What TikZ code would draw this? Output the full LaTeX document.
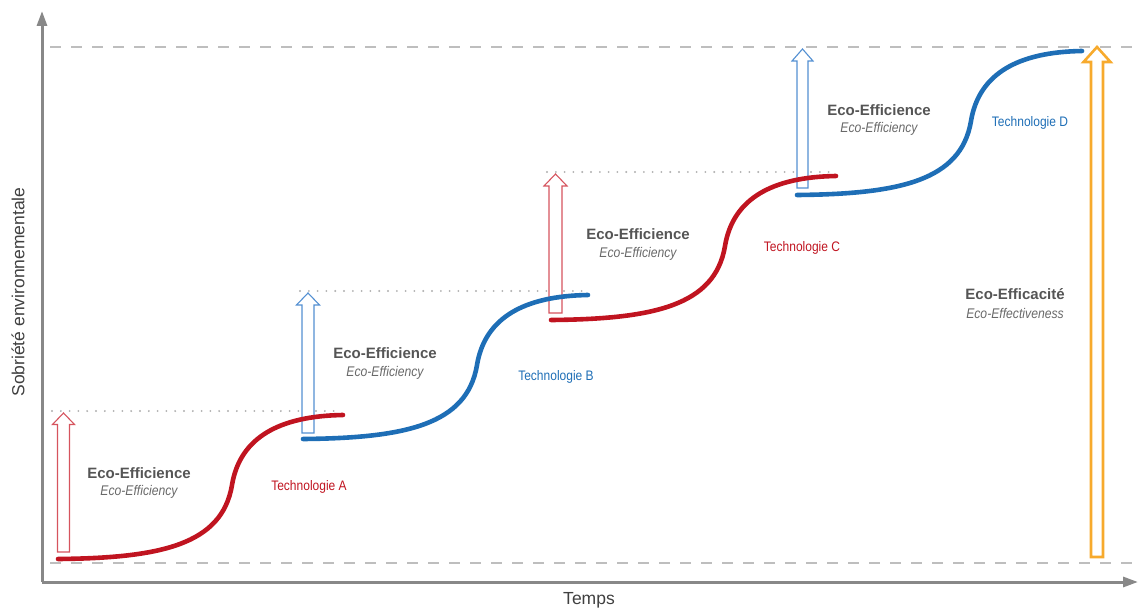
\documentclass[tikz,border=0pt]{standalone}
\usepackage{fontspec}
\setmainfont{Liberation Sans}
\usetikzlibrary{arrows.meta}
\definecolor{axisgray}{RGB}{136,136,136}
\definecolor{dashgray}{RGB}{190,190,190}
\definecolor{dotgray}{RGB}{175,175,175}
\definecolor{techred}{RGB}{192,20,32}
\definecolor{techblue}{RGB}{30,110,182}
\definecolor{arrred}{RGB}{214,84,94}
\definecolor{arrblue}{RGB}{84,144,210}
\definecolor{effor}{RGB}{247,170,45}
\definecolor{txtdark}{RGB}{85,85,85}
\definecolor{txtital}{RGB}{105,105,105}
\newcommand{\condtxt}[1]{\scalebox{0.87}[1]{#1}}
\tikzset{
  axisline/.style={draw=axisgray, line width=3pt, -{Triangle[length=15pt,width=10pt]}},
  levelline/.style={draw=dashgray, line width=2pt, dash pattern=on 11pt off 10pt},
  dotline/.style={draw=dotgray, line width=2.1pt, line cap=round, dash pattern=on 0pt off 8.8pt},
  techcurve/.style={line width=4.6pt, line cap=round},
  hollowarr/.style={line width=1.1pt, fill=white, line join=miter},
  boldlbl/.style={text=txtdark, font=\fontsize{15}{17}\selectfont\bfseries, inner sep=0pt},
  itallbl/.style={text=txtital, font=\fontsize{14}{16}\selectfont\itshape, inner sep=0pt},
  techlbl/.style={font=\fontsize{13.8}{16}\selectfont, inner sep=0pt},
  axislbl/.style={text=black!75, font=\fontsize{17.5}{20}\selectfont, inner sep=0pt}
}
% hollow arrow: style, center x, bottom y, tip y, half shaft, half head, head length
\newcommand{\hollowarrow}[7]{%
  \draw[hollowarr,#1] (#2-#5,#3) -- (#2-#5,#4+#7) -- (#2-#6,#4+#7) -- (#2,#4)
    -- (#2+#6,#4+#7) -- (#2+#5,#4+#7) -- (#2+#5,#3) -- cycle;}
\newcommand{\scurve}[3]{%
  \draw[techcurve,#1,shift={(#2,#3)}] (58,559) .. controls (160,558) and (222,545) .. (232,485)
    .. controls (240,437) and (280,416) .. (343,415);}
\begin{document}
\begin{tikzpicture}[x=1pt,y=-1pt]
\useasboundingbox (0,0) rectangle (1138,610);
% level lines
\coordinate (topL) at (50,47);
\coordinate (topR) at (1138,47);
\coordinate (botL) at (50,563);
\coordinate (botR) at (1138,563);
\draw[levelline] (topL) -- (topR);
\draw[levelline] (botL) -- (botR);
% dotted levels
\coordinate (d1a) at (52,411); \coordinate (d1b) at (340,411);
\coordinate (d2a) at (300,291); \coordinate (d2b) at (586,291);
\coordinate (d3a) at (547,172); \coordinate (d3b) at (834,172);
\draw[dotline] (d1a) -- (d1b);
\draw[dotline] (d2a) -- (d2b);
\draw[dotline] (d3a) -- (d3b);
% axes
\coordinate (O) at (42,582);
\coordinate (Ytop) at (42,11);
\coordinate (Xend) at (1138,582);
\draw[axisline] (O) -- (Ytop);
\draw[axisline] (O) -- (Xend);
% hollow arrows
\hollowarrow{draw=arrred}{63.5}{552}{413}{6}{11}{11.5}
\hollowarrow{draw=arrblue}{308}{433}{293}{6}{11.5}{12}
\hollowarrow{draw=arrred}{555.5}{313}{174}{6.5}{11.5}{12}
\hollowarrow{draw=arrblue}{802.5}{188}{49}{5.5}{10.5}{12}
\hollowarrow{draw=effor,line width=2.6pt}{1097}{557}{47}{6}{13.5}{15}
% technology curves
\scurve{draw=techred}{0}{0}
\scurve{draw=techblue}{245}{-120}
\scurve{draw=techred}{493}{-239}
\scurve{draw=techblue}{739}{-364}
% labels
\node[boldlbl] (ef1) at (139,473) {Eco-Efficience};
\node[itallbl] (ef1e) at (139,492) {\condtxt{Eco-Efficiency}};
\node[boldlbl] (ef2) at (385,353) {Eco-Efficience};
\node[itallbl] (ef2e) at (385,373) {\condtxt{Eco-Efficiency}};
\node[boldlbl] (ef3) at (638,234) {Eco-Efficience};
\node[itallbl] (ef3e) at (638,254) {\condtxt{Eco-Efficiency}};
\node[boldlbl] (ef4) at (879,110) {Eco-Efficience};
\node[itallbl] (ef4e) at (879,129) {\condtxt{Eco-Efficiency}};
\node[boldlbl] (eff) at (1015,294) {Eco-Efficacité};
\node[itallbl] (effe) at (1015,313) {\condtxt{Eco-Effectiveness}};
\node[techlbl,text=techred] (tA) at (309,487) {\condtxt{Technologie A}};
\node[techlbl,text=techblue] (tB) at (556,377) {\condtxt{Technologie B}};
\node[techlbl,text=techred] (tC) at (802,248) {\condtxt{Technologie C}};
\node[techlbl,text=techblue] (tD) at (1030,123) {\condtxt{Technologie D}};
\node[axislbl] (xl) at (589,600) {Temps};
\node[axislbl,rotate=90] (yl) at (18,292) {Sobriété environnementale};
\end{tikzpicture}
\end{document}
